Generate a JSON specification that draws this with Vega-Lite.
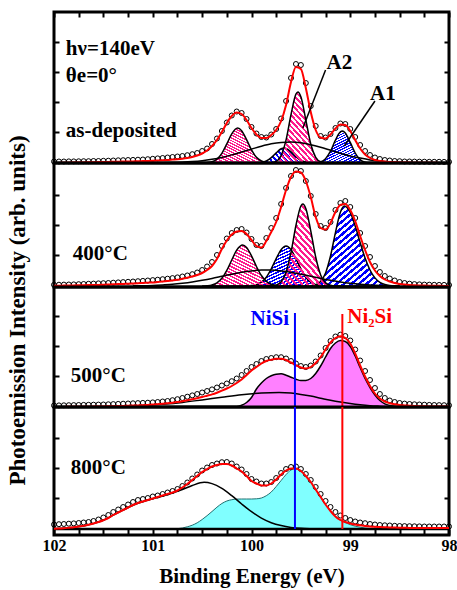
{
"$schema":"https://vega.github.io/schema/vega-lite/v6.json",
"background":"white",
"padding":{"left":4,"top":9,"right":0,"bottom":0},
"spacing":0,
"bounds":"flush",
"config":{
 "view":{"stroke":"black","strokeWidth":3},
 "font":"Liberation Serif",
 "text":{"font":"Liberation Serif","fontWeight":"bold","fontSize":21,"color":"black"},
 "axis":{"domain":false,"grid":false,"labels":false,"ticks":true,"tickColor":"black","tickWidth":2,"tickSize":-5,"labelFont":"Liberation Serif","titleFont":"Liberation Serif","labelFontWeight":"bold","titleFontWeight":"bold","labelColor":"black","titleColor":"black"}
},
"datasets":{
"fit":[
{"p":1,"e":102,"f":0,"o":1.5},{"p":1,"e":101.95,"f":0.1,"o":1.5},{"p":1,"e":101.9,"f":0.2,"o":1.5},{"p":1,"e":101.85,"f":0.3,"o":1.6},{"p":1,"e":101.8,"f":0.4,"o":1.6},{"p":1,"e":101.75,"f":0.5,"o":1.7},{"p":1,"e":101.7,"f":0.6,"o":1.8},{"p":1,"e":101.65,"f":0.7,"o":1.8},{"p":1,"e":101.6,"f":0.8,"o":2},{"p":1,"e":101.55,"f":0.9,"o":2},{"p":1,"e":101.5,"f":1,"o":2.2},{"p":1,"e":101.45,"f":1.1,"o":2.3},{"p":1,"e":101.4,"f":1.2,"o":2.5},{"p":1,"e":101.35,"f":1.3,"o":2.7},{"p":1,"e":101.3,"f":1.4,"o":2.8},{"p":1,"e":101.25,"f":1.5,"o":3},{"p":1,"e":101.2,"f":1.6,"o":3.1},{"p":1,"e":101.15,"f":1.7,"o":3.3},{"p":1,"e":101.1,"f":1.9,"o":3.5},{"p":1,"e":101.05,"f":2.1,"o":3.8},{"p":1,"e":101,"f":2.3,"o":4.2},{"p":1,"e":100.95,"f":2.5,"o":4.6},{"p":1,"e":100.9,"f":2.7,"o":5},{"p":1,"e":100.85,"f":3,"o":5.5},{"p":1,"e":100.8,"f":3.4,"o":6},{"p":1,"e":100.75,"f":3.8,"o":6.5},{"p":1,"e":100.7,"f":4.3,"o":7},{"p":1,"e":100.65,"f":5,"o":7.8},{"p":1,"e":100.6,"f":6,"o":8.8},{"p":1,"e":100.55,"f":7.5,"o":10},{"p":1,"e":100.5,"f":9.5,"o":12},{"p":1,"e":100.45,"f":12.5,"o":14.5},{"p":1,"e":100.4,"f":17,"o":19},{"p":1,"e":100.35,"f":23,"o":24.5},{"p":1,"e":100.3,"f":31,"o":32},{"p":1,"e":100.25,"f":40,"o":40.5},{"p":1,"e":100.2,"f":47,"o":47.5},{"p":1,"e":100.15,"f":50.5,"o":51.5},{"p":1,"e":100.1,"f":49,"o":50},{"p":1,"e":100.05,"f":43,"o":44},{"p":1,"e":100,"f":35,"o":36},{"p":1,"e":99.95,"f":28.5,"o":29.5},{"p":1,"e":99.9,"f":25,"o":26},{"p":1,"e":99.85,"f":25,"o":25.5},{"p":1,"e":99.8,"f":28,"o":28.5},{"p":1,"e":99.75,"f":33,"o":34},{"p":1,"e":99.7,"f":42,"o":44.5},{"p":1,"e":99.65,"f":58,"o":62},{"p":1,"e":99.6,"f":81,"o":85},{"p":1,"e":99.55,"f":96,"o":99},{"p":1,"e":99.5,"f":94,"o":98},{"p":1,"e":99.45,"f":75,"o":80},{"p":1,"e":99.4,"f":51,"o":57},{"p":1,"e":99.35,"f":33,"o":37},{"p":1,"e":99.3,"f":25.5,"o":27},{"p":1,"e":99.25,"f":24.5,"o":25.5},{"p":1,"e":99.2,"f":28.5,"o":29},{"p":1,"e":99.15,"f":34.5,"o":35},{"p":1,"e":99.1,"f":38.5,"o":39.5},{"p":1,"e":99.05,"f":38,"o":39},{"p":1,"e":99,"f":32,"o":34},{"p":1,"e":98.95,"f":23,"o":26},{"p":1,"e":98.9,"f":14.5,"o":18},{"p":1,"e":98.85,"f":8.5,"o":12},{"p":1,"e":98.8,"f":5,"o":8},{"p":1,"e":98.75,"f":3,"o":5.5},{"p":1,"e":98.7,"f":2,"o":4},{"p":1,"e":98.65,"f":1.5,"o":3},{"p":1,"e":98.6,"f":1,"o":2.5},{"p":1,"e":98.55,"f":0.8,"o":2},{"p":1,"e":98.5,"f":0.6,"o":1.8},{"p":1,"e":98.45,"f":0.5,"o":1.5},{"p":1,"e":98.4,"f":0.4,"o":1.5},{"p":1,"e":98.35,"f":0.3,"o":1.4},{"p":1,"e":98.3,"f":0.3,"o":1.3},{"p":1,"e":98.25,"f":0.2,"o":1.3},{"p":1,"e":98.2,"f":0.2,"o":1.2},{"p":1,"e":98.15,"f":0.2,"o":1.2},{"p":1,"e":98.1,"f":0.1,"o":1.2},{"p":1,"e":98.05,"f":0.1,"o":1.1},{"p":1,"e":98,"f":0.1,"o":1.1},
{"p":2,"e":102,"f":0.2,"o":1.2},{"p":2,"e":101.95,"f":0.3,"o":1.3},{"p":2,"e":101.9,"f":0.4,"o":1.4},{"p":2,"e":101.85,"f":0.5,"o":1.5},{"p":2,"e":101.8,"f":0.6,"o":1.6},{"p":2,"e":101.75,"f":0.7,"o":1.8},{"p":2,"e":101.7,"f":0.8,"o":2},{"p":2,"e":101.65,"f":0.9,"o":2.2},{"p":2,"e":101.6,"f":1,"o":2.4},{"p":2,"e":101.55,"f":1.1,"o":2.6},{"p":2,"e":101.5,"f":1.3,"o":2.8},{"p":2,"e":101.45,"f":1.5,"o":3},{"p":2,"e":101.4,"f":1.7,"o":3.3},{"p":2,"e":101.35,"f":1.9,"o":3.6},{"p":2,"e":101.3,"f":2.1,"o":3.9},{"p":2,"e":101.25,"f":2.3,"o":4.2},{"p":2,"e":101.2,"f":2.5,"o":4.5},{"p":2,"e":101.15,"f":2.7,"o":4.8},{"p":2,"e":101.1,"f":3,"o":5.1},{"p":2,"e":101.05,"f":3.3,"o":5.5},{"p":2,"e":101,"f":3.6,"o":5.9},{"p":2,"e":100.95,"f":4,"o":6.3},{"p":2,"e":100.9,"f":4.4,"o":6.8},{"p":2,"e":100.85,"f":4.9,"o":7.3},{"p":2,"e":100.8,"f":5.5,"o":7.9},{"p":2,"e":100.75,"f":6.2,"o":8.6},{"p":2,"e":100.7,"f":7.3,"o":9.5},{"p":2,"e":100.65,"f":8.3,"o":10.5},{"p":2,"e":100.6,"f":9.5,"o":11.8},{"p":2,"e":100.55,"f":11,"o":13.5},{"p":2,"e":100.5,"f":13,"o":16},{"p":2,"e":100.45,"f":16,"o":19.5},{"p":2,"e":100.4,"f":20,"o":24},{"p":2,"e":100.35,"f":27,"o":31},{"p":2,"e":100.3,"f":37,"o":40},{"p":2,"e":100.25,"f":45.5,"o":47.5},{"p":2,"e":100.2,"f":51.5,"o":53},{"p":2,"e":100.15,"f":54.5,"o":56},{"p":2,"e":100.1,"f":55,"o":57},{"p":2,"e":100.05,"f":52,"o":53.5},{"p":2,"e":100,"f":46,"o":47},{"p":2,"e":99.95,"f":40,"o":41},{"p":2,"e":99.9,"f":38.5,"o":40},{"p":2,"e":99.85,"f":45,"o":48},{"p":2,"e":99.8,"f":54,"o":58},{"p":2,"e":99.75,"f":64,"o":68},{"p":2,"e":99.7,"f":79,"o":82},{"p":2,"e":99.65,"f":96,"o":98},{"p":2,"e":99.6,"f":109,"o":110},{"p":2,"e":99.55,"f":114.5,"o":116},{"p":2,"e":99.5,"f":113.5,"o":115},{"p":2,"e":99.45,"f":105,"o":105},{"p":2,"e":99.4,"f":89,"o":90},{"p":2,"e":99.35,"f":69,"o":72},{"p":2,"e":99.3,"f":58,"o":60},{"p":2,"e":99.25,"f":56.5,"o":58},{"p":2,"e":99.2,"f":63,"o":64},{"p":2,"e":99.15,"f":74,"o":76},{"p":2,"e":99.1,"f":81,"o":83},{"p":2,"e":99.05,"f":82,"o":85},{"p":2,"e":99,"f":76,"o":79},{"p":2,"e":98.95,"f":65,"o":68},{"p":2,"e":98.9,"f":50,"o":53},{"p":2,"e":98.85,"f":36,"o":40},{"p":2,"e":98.8,"f":24,"o":29},{"p":2,"e":98.75,"f":15.5,"o":20},{"p":2,"e":98.7,"f":10,"o":14},{"p":2,"e":98.65,"f":6.5,"o":10},{"p":2,"e":98.6,"f":4.5,"o":7.5},{"p":2,"e":98.55,"f":3,"o":5.5},{"p":2,"e":98.5,"f":2,"o":4},{"p":2,"e":98.45,"f":1.4,"o":3},{"p":2,"e":98.4,"f":1,"o":2.3},{"p":2,"e":98.35,"f":0.7,"o":1.9},{"p":2,"e":98.3,"f":0.5,"o":1.6},{"p":2,"e":98.25,"f":0.4,"o":1.4},{"p":2,"e":98.2,"f":0.3,"o":1.3},{"p":2,"e":98.15,"f":0.2,"o":1.2},{"p":2,"e":98.1,"f":0.2,"o":1.1},{"p":2,"e":98.05,"f":0.1,"o":1.1},{"p":2,"e":98,"f":0.1,"o":1},
{"p":3,"e":102,"f":0.1,"o":1.5},{"p":3,"e":101.95,"f":0.1,"o":1.6},{"p":3,"e":101.9,"f":0.1,"o":1.7},{"p":3,"e":101.85,"f":0.2,"o":1.8},{"p":3,"e":101.8,"f":0.2,"o":1.9},{"p":3,"e":101.75,"f":0.2,"o":2},{"p":3,"e":101.7,"f":0.3,"o":2.1},{"p":3,"e":101.65,"f":0.3,"o":2.2},{"p":3,"e":101.6,"f":0.4,"o":2.3},{"p":3,"e":101.55,"f":0.5,"o":2.4},{"p":3,"e":101.5,"f":0.6,"o":2.5},{"p":3,"e":101.45,"f":0.7,"o":2.7},{"p":3,"e":101.4,"f":0.8,"o":2.9},{"p":3,"e":101.35,"f":0.9,"o":3.1},{"p":3,"e":101.3,"f":1,"o":3.3},{"p":3,"e":101.25,"f":1.2,"o":3.5},{"p":3,"e":101.2,"f":1.4,"o":3.7},{"p":3,"e":101.15,"f":1.6,"o":3.9},{"p":3,"e":101.1,"f":1.8,"o":4.1},{"p":3,"e":101.05,"f":2.1,"o":4.3},{"p":3,"e":101,"f":2.4,"o":4.6},{"p":3,"e":100.95,"f":2.8,"o":5},{"p":3,"e":100.9,"f":3.2,"o":5.5},{"p":3,"e":100.85,"f":3.7,"o":6},{"p":3,"e":100.8,"f":4.3,"o":6.8},{"p":3,"e":100.75,"f":5,"o":7.8},{"p":3,"e":100.7,"f":5.8,"o":9},{"p":3,"e":100.65,"f":6.7,"o":10.3},{"p":3,"e":100.6,"f":7.7,"o":11.6},{"p":3,"e":100.55,"f":8.8,"o":13},{"p":3,"e":100.5,"f":10,"o":14.5},{"p":3,"e":100.45,"f":11.3,"o":16},{"p":3,"e":100.4,"f":12.6,"o":17.6},{"p":3,"e":100.35,"f":14.3,"o":19.5},{"p":3,"e":100.3,"f":16.3,"o":21.5},{"p":3,"e":100.25,"f":18.5,"o":23.5},{"p":3,"e":100.2,"f":21,"o":25.8},{"p":3,"e":100.15,"f":24,"o":28.5},{"p":3,"e":100.1,"f":27.5,"o":32},{"p":3,"e":100.05,"f":32,"o":36},{"p":3,"e":100,"f":36.5,"o":40},{"p":3,"e":99.95,"f":40,"o":43},{"p":3,"e":99.9,"f":43.5,"o":46},{"p":3,"e":99.85,"f":46,"o":48},{"p":3,"e":99.8,"f":47.3,"o":49},{"p":3,"e":99.75,"f":48.2,"o":49.8},{"p":3,"e":99.7,"f":48.3,"o":49.8},{"p":3,"e":99.65,"f":47,"o":48.5},{"p":3,"e":99.6,"f":44.5,"o":46},{"p":3,"e":99.55,"f":41.8,"o":43.5},{"p":3,"e":99.5,"f":39.5,"o":41},{"p":3,"e":99.45,"f":38.5,"o":40},{"p":3,"e":99.4,"f":40,"o":41.5},{"p":3,"e":99.35,"f":44,"o":45.5},{"p":3,"e":99.3,"f":50,"o":51.5},{"p":3,"e":99.25,"f":57.5,"o":59},{"p":3,"e":99.2,"f":64.5,"o":66},{"p":3,"e":99.15,"f":69,"o":70.5},{"p":3,"e":99.1,"f":70.8,"o":72.3},{"p":3,"e":99.05,"f":69,"o":71},{"p":3,"e":99,"f":63.5,"o":66.5},{"p":3,"e":98.95,"f":53.5,"o":57.5},{"p":3,"e":98.9,"f":41.5,"o":46.5},{"p":3,"e":98.85,"f":30.5,"o":36},{"p":3,"e":98.8,"f":21,"o":27},{"p":3,"e":98.75,"f":13.5,"o":19},{"p":3,"e":98.7,"f":8.5,"o":13},{"p":3,"e":98.65,"f":5.5,"o":9},{"p":3,"e":98.6,"f":3.8,"o":6.5},{"p":3,"e":98.55,"f":2.7,"o":5},{"p":3,"e":98.5,"f":2,"o":4},{"p":3,"e":98.45,"f":1.6,"o":3.4},{"p":3,"e":98.4,"f":1.3,"o":3},{"p":3,"e":98.35,"f":1,"o":2.7},{"p":3,"e":98.3,"f":0.8,"o":2.5},{"p":3,"e":98.25,"f":0.7,"o":2.3},{"p":3,"e":98.2,"f":0.6,"o":2.1},{"p":3,"e":98.15,"f":0.5,"o":2},{"p":3,"e":98.1,"f":0.4,"o":1.9},{"p":3,"e":98.05,"f":0.4,"o":1.8},{"p":3,"e":98,"f":0.3,"o":1.7},
{"p":4,"e":102,"f":0.3,"o":4.5},{"p":4,"e":101.95,"f":0.5,"o":4.8},{"p":4,"e":101.9,"f":0.8,"o":5},{"p":4,"e":101.85,"f":1.3,"o":5.3},{"p":4,"e":101.8,"f":1.8,"o":5.6},{"p":4,"e":101.75,"f":2.5,"o":6},{"p":4,"e":101.7,"f":3.2,"o":6.5},{"p":4,"e":101.65,"f":4.3,"o":7},{"p":4,"e":101.6,"f":5.5,"o":8},{"p":4,"e":101.55,"f":7,"o":9.5},{"p":4,"e":101.5,"f":8.8,"o":11.5},{"p":4,"e":101.45,"f":11,"o":14},{"p":4,"e":101.4,"f":14,"o":17},{"p":4,"e":101.35,"f":16.5,"o":19.5},{"p":4,"e":101.3,"f":19,"o":22},{"p":4,"e":101.25,"f":21.5,"o":24.5},{"p":4,"e":101.2,"f":24,"o":27},{"p":4,"e":101.15,"f":26,"o":29},{"p":4,"e":101.1,"f":27.5,"o":30},{"p":4,"e":101.05,"f":29,"o":31},{"p":4,"e":101,"f":30.5,"o":32.5},{"p":4,"e":100.95,"f":32,"o":33.5},{"p":4,"e":100.9,"f":33.5,"o":35},{"p":4,"e":100.85,"f":35,"o":36.5},{"p":4,"e":100.8,"f":36.5,"o":38},{"p":4,"e":100.75,"f":38.5,"o":40},{"p":4,"e":100.7,"f":41.5,"o":43},{"p":4,"e":100.65,"f":45,"o":46.5},{"p":4,"e":100.6,"f":49,"o":50.5},{"p":4,"e":100.55,"f":53,"o":54.5},{"p":4,"e":100.5,"f":57,"o":58.5},{"p":4,"e":100.45,"f":60,"o":61.5},{"p":4,"e":100.4,"f":62.5,"o":64},{"p":4,"e":100.35,"f":64,"o":65.5},{"p":4,"e":100.3,"f":65,"o":66.8},{"p":4,"e":100.25,"f":65,"o":67},{"p":4,"e":100.2,"f":63.5,"o":65.5},{"p":4,"e":100.15,"f":60.5,"o":62.5},{"p":4,"e":100.1,"f":57.5,"o":59.5},{"p":4,"e":100.05,"f":53,"o":55},{"p":4,"e":100,"f":48,"o":50},{"p":4,"e":99.95,"f":45.5,"o":47.5},{"p":4,"e":99.9,"f":43.5,"o":45.5},{"p":4,"e":99.85,"f":43.5,"o":45.5},{"p":4,"e":99.8,"f":45.5,"o":47},{"p":4,"e":99.75,"f":49.5,"o":51},{"p":4,"e":99.7,"f":54.5,"o":56},{"p":4,"e":99.65,"f":58.5,"o":60},{"p":4,"e":99.6,"f":60.5,"o":62},{"p":4,"e":99.55,"f":60.5,"o":62.5},{"p":4,"e":99.5,"f":58,"o":60},{"p":4,"e":99.45,"f":53,"o":55},{"p":4,"e":99.4,"f":47,"o":49},{"p":4,"e":99.35,"f":39.5,"o":42},{"p":4,"e":99.3,"f":32,"o":35},{"p":4,"e":99.25,"f":24.5,"o":28},{"p":4,"e":99.2,"f":18,"o":22},{"p":4,"e":99.15,"f":12.5,"o":17},{"p":4,"e":99.1,"f":9,"o":13.5},{"p":4,"e":99.05,"f":7,"o":11},{"p":4,"e":99,"f":5.5,"o":9},{"p":4,"e":98.95,"f":4.5,"o":7.5},{"p":4,"e":98.9,"f":3.7,"o":6.5},{"p":4,"e":98.85,"f":3.1,"o":5.8},{"p":4,"e":98.8,"f":2.6,"o":5},{"p":4,"e":98.75,"f":2.2,"o":4.5},{"p":4,"e":98.7,"f":1.9,"o":4},{"p":4,"e":98.65,"f":1.7,"o":3.7},{"p":4,"e":98.6,"f":1.5,"o":3.5},{"p":4,"e":98.55,"f":1.4,"o":3.2},{"p":4,"e":98.5,"f":1.3,"o":3},{"p":4,"e":98.45,"f":1.2,"o":2.9},{"p":4,"e":98.4,"f":1.1,"o":2.8},{"p":4,"e":98.35,"f":1.1,"o":2.7},{"p":4,"e":98.3,"f":1,"o":2.6},{"p":4,"e":98.25,"f":1,"o":2.5},{"p":4,"e":98.2,"f":1,"o":2.5},{"p":4,"e":98.15,"f":1,"o":2.5},{"p":4,"e":98.1,"f":1,"o":2.5},{"p":4,"e":98.05,"f":1,"o":2.5},{"p":4,"e":98,"f":1,"o":2.5}
],
"comp":[
{"p":1,"s":"a","t":"pink","e":100.5,"v":0},{"p":1,"s":"a","t":"pink","e":100.45,"v":0.3},{"p":1,"s":"a","t":"pink","e":100.4,"v":1.2},{"p":1,"s":"a","t":"pink","e":100.35,"v":3.9},{"p":1,"s":"a","t":"pink","e":100.3,"v":9.7},{"p":1,"s":"a","t":"pink","e":100.25,"v":19.1},{"p":1,"s":"a","t":"pink","e":100.2,"v":29.2},{"p":1,"s":"a","t":"pink","e":100.14,"v":35},{"p":1,"s":"a","t":"pink","e":100.1,"v":32.3},{"p":1,"s":"a","t":"pink","e":100.05,"v":23.3},{"p":1,"s":"a","t":"pink","e":100,"v":13.1},{"p":1,"s":"a","t":"pink","e":99.95,"v":5.7},{"p":1,"s":"a","t":"pink","e":99.9,"v":2},{"p":1,"s":"a","t":"pink","e":99.85,"v":0.5},{"p":1,"s":"a","t":"pink","e":99.8,"v":0},
{"p":1,"s":"b","t":"pink","e":99.85,"v":0},{"p":1,"s":"b","t":"pink","e":99.8,"v":0.2},{"p":1,"s":"b","t":"pink","e":99.75,"v":1.6},{"p":1,"s":"b","t":"pink","e":99.7,"v":7.4},{"p":1,"s":"b","t":"pink","e":99.65,"v":23.1},{"p":1,"s":"b","t":"pink","e":99.6,"v":48.4},{"p":1,"s":"b","t":"pink","e":99.55,"v":68.8},{"p":1,"s":"b","t":"pink","e":99.53,"v":71},{"p":1,"s":"b","t":"pink","e":99.5,"v":66.2},{"p":1,"s":"b","t":"pink","e":99.45,"v":43.1},{"p":1,"s":"b","t":"pink","e":99.4,"v":19},{"p":1,"s":"b","t":"pink","e":99.35,"v":5.7},{"p":1,"s":"b","t":"pink","e":99.3,"v":1.2},{"p":1,"s":"b","t":"pink","e":99.25,"v":0.2},{"p":1,"s":"b","t":"pink","e":99.2,"v":0},
{"p":1,"s":"c","t":"blue","e":99.4,"v":0},{"p":1,"s":"c","t":"blue","e":99.35,"v":0.2},{"p":1,"s":"c","t":"blue","e":99.3,"v":1.1},{"p":1,"s":"c","t":"blue","e":99.25,"v":4.3},{"p":1,"s":"c","t":"blue","e":99.2,"v":11.8},{"p":1,"s":"c","t":"blue","e":99.15,"v":22.9},{"p":1,"s":"c","t":"blue","e":99.1,"v":31.1},{"p":1,"s":"c","t":"blue","e":99.08,"v":32},{"p":1,"s":"c","t":"blue","e":99.05,"v":30.1},{"p":1,"s":"c","t":"blue","e":99,"v":20.6},{"p":1,"s":"c","t":"blue","e":98.95,"v":10},{"p":1,"s":"c","t":"blue","e":98.9,"v":3.4},{"p":1,"s":"c","t":"blue","e":98.85,"v":0.8},{"p":1,"s":"c","t":"blue","e":98.8,"v":0.1},{"p":1,"s":"c","t":"blue","e":98.75,"v":0},
{"p":1,"s":"d","t":"blue","e":100,"v":0},{"p":1,"s":"d","t":"blue","e":99.95,"v":0.1},{"p":1,"s":"d","t":"blue","e":99.9,"v":0.6},{"p":1,"s":"d","t":"blue","e":99.85,"v":2},{"p":1,"s":"d","t":"blue","e":99.8,"v":5.3},{"p":1,"s":"d","t":"blue","e":99.75,"v":10.1},{"p":1,"s":"d","t":"blue","e":99.7,"v":14.2},{"p":1,"s":"d","t":"blue","e":99.67,"v":15},{"p":1,"s":"d","t":"blue","e":99.65,"v":14.6},{"p":1,"s":"d","t":"blue","e":99.6,"v":11.1},{"p":1,"s":"d","t":"blue","e":99.55,"v":6.2},{"p":1,"s":"d","t":"blue","e":99.5,"v":2.5},{"p":1,"s":"d","t":"blue","e":99.45,"v":0.8},{"p":1,"s":"d","t":"blue","e":99.4,"v":0.2},{"p":1,"s":"d","t":"blue","e":99.35,"v":0},
{"p":1,"s":"g","t":"bg","e":101,"v":0.1},{"p":1,"s":"g","t":"bg","e":100.9,"v":0.2},{"p":1,"s":"g","t":"bg","e":100.8,"v":0.4},{"p":1,"s":"g","t":"bg","e":100.7,"v":0.8},{"p":1,"s":"g","t":"bg","e":100.6,"v":1.4},{"p":1,"s":"g","t":"bg","e":100.5,"v":2.3},{"p":1,"s":"g","t":"bg","e":100.4,"v":3.7},{"p":1,"s":"g","t":"bg","e":100.3,"v":5.6},{"p":1,"s":"g","t":"bg","e":100.2,"v":8.1},{"p":1,"s":"g","t":"bg","e":100.1,"v":11},{"p":1,"s":"g","t":"bg","e":100,"v":13.9},{"p":1,"s":"g","t":"bg","e":99.9,"v":16.8},{"p":1,"s":"g","t":"bg","e":99.8,"v":19.2},{"p":1,"s":"g","t":"bg","e":99.7,"v":20.6},{"p":1,"s":"g","t":"bg","e":99.6,"v":21},{"p":1,"s":"g","t":"bg","e":99.5,"v":20.2},{"p":1,"s":"g","t":"bg","e":99.4,"v":18.3},{"p":1,"s":"g","t":"bg","e":99.3,"v":15.7},{"p":1,"s":"g","t":"bg","e":99.2,"v":12.7},{"p":1,"s":"g","t":"bg","e":99.1,"v":9.7},{"p":1,"s":"g","t":"bg","e":99,"v":7},{"p":1,"s":"g","t":"bg","e":98.9,"v":4.9},{"p":1,"s":"g","t":"bg","e":98.8,"v":3.1},{"p":1,"s":"g","t":"bg","e":98.7,"v":1.9},{"p":1,"s":"g","t":"bg","e":98.6,"v":1.1},{"p":1,"s":"g","t":"bg","e":98.5,"v":0.6},{"p":1,"s":"g","t":"bg","e":98.4,"v":0.3},{"p":1,"s":"g","t":"bg","e":98.3,"v":0.1},
{"p":2,"s":"a","t":"pink","e":100.5,"v":0},{"p":2,"s":"a","t":"pink","e":100.45,"v":0.3},{"p":2,"s":"a","t":"pink","e":100.4,"v":1.1},{"p":2,"s":"a","t":"pink","e":100.35,"v":3.2},{"p":2,"s":"a","t":"pink","e":100.3,"v":7.7},{"p":2,"s":"a","t":"pink","e":100.25,"v":15.6},{"p":2,"s":"a","t":"pink","e":100.2,"v":26},{"p":2,"s":"a","t":"pink","e":100.15,"v":35.8},{"p":2,"s":"a","t":"pink","e":100.09,"v":41},{"p":2,"s":"a","t":"pink","e":100.05,"v":38.6},{"p":2,"s":"a","t":"pink","e":100,"v":30.2},{"p":2,"s":"a","t":"pink","e":99.95,"v":19.5},{"p":2,"s":"a","t":"pink","e":99.9,"v":10.5},{"p":2,"s":"a","t":"pink","e":99.85,"v":4.6},{"p":2,"s":"a","t":"pink","e":99.8,"v":1.7},{"p":2,"s":"a","t":"pink","e":99.75,"v":0.5},{"p":2,"s":"a","t":"pink","e":99.7,"v":0.1},{"p":2,"s":"a","t":"pink","e":99.65,"v":0},
{"p":2,"s":"b","t":"pink","e":99.85,"v":0},{"p":2,"s":"b","t":"pink","e":99.8,"v":0.1},{"p":2,"s":"b","t":"pink","e":99.75,"v":0.9},{"p":2,"s":"b","t":"pink","e":99.7,"v":4.2},{"p":2,"s":"b","t":"pink","e":99.65,"v":13.8},{"p":2,"s":"b","t":"pink","e":99.6,"v":33.7},{"p":2,"s":"b","t":"pink","e":99.55,"v":60.5},{"p":2,"s":"b","t":"pink","e":99.5,"v":80},{"p":2,"s":"b","t":"pink","e":99.48,"v":82},{"p":2,"s":"b","t":"pink","e":99.45,"v":77.6},{"p":2,"s":"b","t":"pink","e":99.4,"v":55.2},{"p":2,"s":"b","t":"pink","e":99.35,"v":29},{"p":2,"s":"b","t":"pink","e":99.3,"v":11.1},{"p":2,"s":"b","t":"pink","e":99.25,"v":3.1},{"p":2,"s":"b","t":"pink","e":99.2,"v":0.7},{"p":2,"s":"b","t":"pink","e":99.15,"v":0.1},{"p":2,"s":"b","t":"pink","e":99.1,"v":0},
{"p":2,"s":"c","t":"blue","e":99.45,"v":0},{"p":2,"s":"c","t":"blue","e":99.4,"v":0.2},{"p":2,"s":"c","t":"blue","e":99.35,"v":1.2},{"p":2,"s":"c","t":"blue","e":99.3,"v":4.5},{"p":2,"s":"c","t":"blue","e":99.25,"v":13.1},{"p":2,"s":"c","t":"blue","e":99.2,"v":30},{"p":2,"s":"c","t":"blue","e":99.15,"v":53.4},{"p":2,"s":"c","t":"blue","e":99.1,"v":73.8},{"p":2,"s":"c","t":"blue","e":99.06,"v":80},{"p":2,"s":"c","t":"blue","e":99,"v":73.5},{"p":2,"s":"c","t":"blue","e":98.95,"v":60},{"p":2,"s":"c","t":"blue","e":98.9,"v":43.6},{"p":2,"s":"c","t":"blue","e":98.85,"v":28},{"p":2,"s":"c","t":"blue","e":98.8,"v":16},{"p":2,"s":"c","t":"blue","e":98.75,"v":8.1},{"p":2,"s":"c","t":"blue","e":98.7,"v":3.7},{"p":2,"s":"c","t":"blue","e":98.65,"v":1.5},{"p":2,"s":"c","t":"blue","e":98.6,"v":0.5},{"p":2,"s":"c","t":"blue","e":98.55,"v":0.1},{"p":2,"s":"c","t":"blue","e":98.5,"v":0},
{"p":2,"s":"d","t":"blue","e":100.1,"v":0},{"p":2,"s":"d","t":"blue","e":100.05,"v":0.1},{"p":2,"s":"d","t":"blue","e":100,"v":0.4},{"p":2,"s":"d","t":"blue","e":99.95,"v":1.3},{"p":2,"s":"d","t":"blue","e":99.9,"v":3.8},{"p":2,"s":"d","t":"blue","e":99.85,"v":8.8},{"p":2,"s":"d","t":"blue","e":99.8,"v":17.2},{"p":2,"s":"d","t":"blue","e":99.75,"v":27.4},{"p":2,"s":"d","t":"blue","e":99.7,"v":36.4},{"p":2,"s":"d","t":"blue","e":99.65,"v":40},{"p":2,"s":"d","t":"blue","e":99.6,"v":36.4},{"p":2,"s":"d","t":"blue","e":99.55,"v":27.4},{"p":2,"s":"d","t":"blue","e":99.5,"v":17.2},{"p":2,"s":"d","t":"blue","e":99.45,"v":8.8},{"p":2,"s":"d","t":"blue","e":99.4,"v":3.8},{"p":2,"s":"d","t":"blue","e":99.35,"v":1.3},{"p":2,"s":"d","t":"blue","e":99.3,"v":0.4},{"p":2,"s":"d","t":"blue","e":99.25,"v":0.1},{"p":2,"s":"d","t":"blue","e":99.2,"v":0},
{"p":2,"s":"g","t":"bg","e":101.2,"v":0.2},{"p":2,"s":"g","t":"bg","e":101.1,"v":0.3},{"p":2,"s":"g","t":"bg","e":101,"v":0.6},{"p":2,"s":"g","t":"bg","e":100.9,"v":1.1},{"p":2,"s":"g","t":"bg","e":100.8,"v":1.7},{"p":2,"s":"g","t":"bg","e":100.7,"v":2.7},{"p":2,"s":"g","t":"bg","e":100.6,"v":4},{"p":2,"s":"g","t":"bg","e":100.5,"v":5.7},{"p":2,"s":"g","t":"bg","e":100.4,"v":7.6},{"p":2,"s":"g","t":"bg","e":100.3,"v":9.7},{"p":2,"s":"g","t":"bg","e":100.2,"v":11.8},{"p":2,"s":"g","t":"bg","e":100.1,"v":13.7},{"p":2,"s":"g","t":"bg","e":100,"v":15.1},{"p":2,"s":"g","t":"bg","e":99.9,"v":15.9},{"p":2,"s":"g","t":"bg","e":99.8,"v":15.9},{"p":2,"s":"g","t":"bg","e":99.7,"v":15.1},{"p":2,"s":"g","t":"bg","e":99.6,"v":13.7},{"p":2,"s":"g","t":"bg","e":99.5,"v":11.8},{"p":2,"s":"g","t":"bg","e":99.4,"v":9.7},{"p":2,"s":"g","t":"bg","e":99.3,"v":7.6},{"p":2,"s":"g","t":"bg","e":99.2,"v":5.7},{"p":2,"s":"g","t":"bg","e":99.1,"v":4},{"p":2,"s":"g","t":"bg","e":99,"v":2.7},{"p":2,"s":"g","t":"bg","e":98.9,"v":1.7},{"p":2,"s":"g","t":"bg","e":98.8,"v":1.1},{"p":2,"s":"g","t":"bg","e":98.7,"v":0.6},{"p":2,"s":"g","t":"bg","e":98.6,"v":0.3},{"p":2,"s":"g","t":"bg","e":98.5,"v":0.2},
{"p":3,"s":"m","t":"mag","e":100.2,"v":0},{"p":3,"s":"m","t":"mag","e":100.15,"v":0.3},{"p":3,"s":"m","t":"mag","e":100.1,"v":1.7},{"p":3,"s":"m","t":"mag","e":100.05,"v":4.5},{"p":3,"s":"m","t":"mag","e":100,"v":9.5},{"p":3,"s":"m","t":"mag","e":99.95,"v":18},{"p":3,"s":"m","t":"mag","e":99.9,"v":24},{"p":3,"s":"m","t":"mag","e":99.85,"v":28.5},{"p":3,"s":"m","t":"mag","e":99.8,"v":31.2},{"p":3,"s":"m","t":"mag","e":99.75,"v":32.8},{"p":3,"s":"m","t":"mag","e":99.7,"v":33.2},{"p":3,"s":"m","t":"mag","e":99.65,"v":31.8},{"p":3,"s":"m","t":"mag","e":99.6,"v":29.8},{"p":3,"s":"m","t":"mag","e":99.55,"v":27.8},{"p":3,"s":"m","t":"mag","e":99.5,"v":26.4},{"p":3,"s":"m","t":"mag","e":99.45,"v":26.5},{"p":3,"s":"m","t":"mag","e":99.4,"v":28.5},{"p":3,"s":"m","t":"mag","e":99.35,"v":33.5},{"p":3,"s":"m","t":"mag","e":99.3,"v":41},{"p":3,"s":"m","t":"mag","e":99.25,"v":50},{"p":3,"s":"m","t":"mag","e":99.2,"v":58.5},{"p":3,"s":"m","t":"mag","e":99.15,"v":64},{"p":3,"s":"m","t":"mag","e":99.1,"v":66.5},{"p":3,"s":"m","t":"mag","e":99.05,"v":65.5},{"p":3,"s":"m","t":"mag","e":99,"v":60.5},{"p":3,"s":"m","t":"mag","e":98.95,"v":51},{"p":3,"s":"m","t":"mag","e":98.9,"v":39.5},{"p":3,"s":"m","t":"mag","e":98.85,"v":28.5},{"p":3,"s":"m","t":"mag","e":98.8,"v":19.5},{"p":3,"s":"m","t":"mag","e":98.75,"v":12},{"p":3,"s":"m","t":"mag","e":98.7,"v":6.5},{"p":3,"s":"m","t":"mag","e":98.65,"v":3.2},{"p":3,"s":"m","t":"mag","e":98.6,"v":1.5},{"p":3,"s":"m","t":"mag","e":98.55,"v":0.5},{"p":3,"s":"m","t":"mag","e":98.5,"v":0},
{"p":3,"s":"g","t":"bg","e":101.7,"v":0.1},{"p":3,"s":"g","t":"bg","e":101.5,"v":0.3},{"p":3,"s":"g","t":"bg","e":101.3,"v":0.8},{"p":3,"s":"g","t":"bg","e":101.1,"v":1.5},{"p":3,"s":"g","t":"bg","e":100.9,"v":2.8},{"p":3,"s":"g","t":"bg","e":100.7,"v":4.6},{"p":3,"s":"g","t":"bg","e":100.5,"v":7.1},{"p":3,"s":"g","t":"bg","e":100.3,"v":9.7},{"p":3,"s":"g","t":"bg","e":100.1,"v":12.2},{"p":3,"s":"g","t":"bg","e":99.9,"v":14},{"p":3,"s":"g","t":"bg","e":99.72,"v":14.5},{"p":3,"s":"g","t":"bg","e":99.6,"v":13.9},{"p":3,"s":"g","t":"bg","e":99.5,"v":12.6},{"p":3,"s":"g","t":"bg","e":99.4,"v":10.9},{"p":3,"s":"g","t":"bg","e":99.3,"v":8.8},{"p":3,"s":"g","t":"bg","e":99.2,"v":6.7},{"p":3,"s":"g","t":"bg","e":99.1,"v":4.9},{"p":3,"s":"g","t":"bg","e":99,"v":3.4},{"p":3,"s":"g","t":"bg","e":98.9,"v":2.2},{"p":3,"s":"g","t":"bg","e":98.8,"v":1.3},{"p":3,"s":"g","t":"bg","e":98.7,"v":0.8},{"p":3,"s":"g","t":"bg","e":98.6,"v":0.4},{"p":3,"s":"g","t":"bg","e":98.5,"v":0.2},{"p":3,"s":"g","t":"bg","e":98.4,"v":0.1},
{"p":4,"s":"y","t":"cyan","e":100.8,"v":0},{"p":4,"s":"y","t":"cyan","e":100.75,"v":0.3},{"p":4,"s":"y","t":"cyan","e":100.7,"v":1},{"p":4,"s":"y","t":"cyan","e":100.65,"v":2.2},{"p":4,"s":"y","t":"cyan","e":100.6,"v":3.8},{"p":4,"s":"y","t":"cyan","e":100.55,"v":6.2},{"p":4,"s":"y","t":"cyan","e":100.5,"v":9.5},{"p":4,"s":"y","t":"cyan","e":100.45,"v":13.3},{"p":4,"s":"y","t":"cyan","e":100.4,"v":17.5},{"p":4,"s":"y","t":"cyan","e":100.35,"v":21.8},{"p":4,"s":"y","t":"cyan","e":100.3,"v":25.5},{"p":4,"s":"y","t":"cyan","e":100.25,"v":28},{"p":4,"s":"y","t":"cyan","e":100.2,"v":29.3},{"p":4,"s":"y","t":"cyan","e":100.15,"v":29.9},{"p":4,"s":"y","t":"cyan","e":100.1,"v":30},{"p":4,"s":"y","t":"cyan","e":100.05,"v":30},{"p":4,"s":"y","t":"cyan","e":100,"v":30},{"p":4,"s":"y","t":"cyan","e":99.95,"v":30.2},{"p":4,"s":"y","t":"cyan","e":99.9,"v":31},{"p":4,"s":"y","t":"cyan","e":99.85,"v":33.3},{"p":4,"s":"y","t":"cyan","e":99.8,"v":37},{"p":4,"s":"y","t":"cyan","e":99.75,"v":42.5},{"p":4,"s":"y","t":"cyan","e":99.7,"v":48.5},{"p":4,"s":"y","t":"cyan","e":99.65,"v":54.5},{"p":4,"s":"y","t":"cyan","e":99.6,"v":59},{"p":4,"s":"y","t":"cyan","e":99.55,"v":60.5},{"p":4,"s":"y","t":"cyan","e":99.5,"v":58.5},{"p":4,"s":"y","t":"cyan","e":99.45,"v":53},{"p":4,"s":"y","t":"cyan","e":99.4,"v":47},{"p":4,"s":"y","t":"cyan","e":99.35,"v":39.5},{"p":4,"s":"y","t":"cyan","e":99.3,"v":32},{"p":4,"s":"y","t":"cyan","e":99.25,"v":24.5},{"p":4,"s":"y","t":"cyan","e":99.2,"v":18},{"p":4,"s":"y","t":"cyan","e":99.15,"v":12.5},{"p":4,"s":"y","t":"cyan","e":99.1,"v":8.8},{"p":4,"s":"y","t":"cyan","e":99.05,"v":6.3},{"p":4,"s":"y","t":"cyan","e":99,"v":4.3},{"p":4,"s":"y","t":"cyan","e":98.95,"v":2.8},{"p":4,"s":"y","t":"cyan","e":98.9,"v":1.8},{"p":4,"s":"y","t":"cyan","e":98.85,"v":1},{"p":4,"s":"y","t":"cyan","e":98.8,"v":0.5},{"p":4,"s":"y","t":"cyan","e":98.75,"v":0.2},{"p":4,"s":"y","t":"cyan","e":98.7,"v":0},
{"p":4,"s":"k","t":"black","e":102,"v":0.2},{"p":4,"s":"k","t":"black","e":101.9,"v":0.7},{"p":4,"s":"k","t":"black","e":101.8,"v":1.7},{"p":4,"s":"k","t":"black","e":101.7,"v":3.1},{"p":4,"s":"k","t":"black","e":101.6,"v":5.4},{"p":4,"s":"k","t":"black","e":101.5,"v":8.7},{"p":4,"s":"k","t":"black","e":101.4,"v":13.8},{"p":4,"s":"k","t":"black","e":101.3,"v":18.8},{"p":4,"s":"k","t":"black","e":101.2,"v":23.8},{"p":4,"s":"k","t":"black","e":101.1,"v":27.3},{"p":4,"s":"k","t":"black","e":101,"v":30.2},{"p":4,"s":"k","t":"black","e":100.9,"v":33},{"p":4,"s":"k","t":"black","e":100.8,"v":36},{"p":4,"s":"k","t":"black","e":100.7,"v":39.5},{"p":4,"s":"k","t":"black","e":100.6,"v":43.5},{"p":4,"s":"k","t":"black","e":100.48,"v":46.7},{"p":4,"s":"k","t":"black","e":100.4,"v":45.4},{"p":4,"s":"k","t":"black","e":100.3,"v":40.6},{"p":4,"s":"k","t":"black","e":100.2,"v":33.3},{"p":4,"s":"k","t":"black","e":100.1,"v":25},{"p":4,"s":"k","t":"black","e":100,"v":17.3},{"p":4,"s":"k","t":"black","e":99.9,"v":10.9},{"p":4,"s":"k","t":"black","e":99.8,"v":6.3},{"p":4,"s":"k","t":"black","e":99.7,"v":3.4},{"p":4,"s":"k","t":"black","e":99.6,"v":1.6},{"p":4,"s":"k","t":"black","e":99.5,"v":0.7},{"p":4,"s":"k","t":"black","e":99.4,"v":0.3},{"p":4,"s":"k","t":"black","e":99.3,"v":0.1}
],
"labels":[
{"p":1,"k":"l","txt":"hν=140eV","e":101.88,"v":108},
{"p":1,"k":"l","txt":"θe=0°","e":101.88,"v":81},
{"p":1,"k":"l","txt":"as-deposited","e":101.88,"v":26},
{"p":1,"k":"c","txt":"A2","e":99.11,"v":94},
{"p":1,"k":"c","txt":"A1","e":98.67,"v":63},
{"p":2,"k":"l","txt":"400°C","e":101.81,"v":26},
{"p":3,"k":"l","txt":"500°C","e":101.83,"v":25},
{"p":3,"k":"b","txt":"NiSi","e":99.62,"v":82},
{"p":3,"k":"r","txt":"Ni₂Si","e":99.03,"v":84},
{"p":4,"k":"l","txt":"800°C","e":101.83,"v":55}
],
"refs":[
{"p":3,"n":"NiSi","e":99.56,"lo":0,"hi":94},
{"p":3,"n":"Ni2Si","e":99.08,"lo":0,"hi":93},
{"p":4,"n":"NiSi","e":99.56,"lo":0,"hi":122},
{"p":4,"n":"Ni2Si","e":99.08,"lo":0,"hi":122}
],
"ptr":[
{"p":1,"e":99.25,"v":93,"e2":99.48,"v2":35},
{"p":1,"e":98.75,"v":62,"e2":99.06,"v2":17}
],
"base":[{"v":0}]
},
"vconcat":[
{
"width":395,"height":151,
"resolve":{"axis":{"x":"independent","y":"independent"}},
"layer":[
{"data":{"name":"comp"},"transform":[{"filter":"datum.p==1 && datum.t=='blue'"}],
 "mark":{"type":"area","interpolate":"monotone","stroke":"black","strokeWidth":1.5,"fill":{"gradient":"linear","x1":0,"y1":0,"x2":1,"y2":1,"stops":[{"offset":0,"color":"#00f"},{"offset":0.02,"color":"#00f"},{"offset":0.02,"color":"transparent"},{"offset":0.04,"color":"transparent"},{"offset":0.04,"color":"#00f"},{"offset":0.06,"color":"#00f"},{"offset":0.06,"color":"transparent"},{"offset":0.08,"color":"transparent"},{"offset":0.08,"color":"#00f"},{"offset":0.1,"color":"#00f"},{"offset":0.1,"color":"transparent"},{"offset":0.12,"color":"transparent"},{"offset":0.12,"color":"#00f"},{"offset":0.14,"color":"#00f"},{"offset":0.14,"color":"transparent"},{"offset":0.16,"color":"transparent"},{"offset":0.16,"color":"#00f"},{"offset":0.18,"color":"#00f"},{"offset":0.18,"color":"transparent"},{"offset":0.2,"color":"transparent"},{"offset":0.2,"color":"#00f"},{"offset":0.22,"color":"#00f"},{"offset":0.22,"color":"transparent"},{"offset":0.24,"color":"transparent"},{"offset":0.24,"color":"#00f"},{"offset":0.26,"color":"#00f"},{"offset":0.26,"color":"transparent"},{"offset":0.28,"color":"transparent"},{"offset":0.28,"color":"#00f"},{"offset":0.3,"color":"#00f"},{"offset":0.3,"color":"transparent"},{"offset":0.32,"color":"transparent"},{"offset":0.32,"color":"#00f"},{"offset":0.34,"color":"#00f"},{"offset":0.34,"color":"transparent"},{"offset":0.36,"color":"transparent"},{"offset":0.36,"color":"#00f"},{"offset":0.38,"color":"#00f"},{"offset":0.38,"color":"transparent"},{"offset":0.4,"color":"transparent"},{"offset":0.4,"color":"#00f"},{"offset":0.42,"color":"#00f"},{"offset":0.42,"color":"transparent"},{"offset":0.44,"color":"transparent"},{"offset":0.44,"color":"#00f"},{"offset":0.46,"color":"#00f"},{"offset":0.46,"color":"transparent"},{"offset":0.48,"color":"transparent"},{"offset":0.48,"color":"#00f"},{"offset":0.5,"color":"#00f"},{"offset":0.5,"color":"transparent"},{"offset":0.52,"color":"transparent"},{"offset":0.52,"color":"#00f"},{"offset":0.54,"color":"#00f"},{"offset":0.54,"color":"transparent"},{"offset":0.56,"color":"transparent"},{"offset":0.56,"color":"#00f"},{"offset":0.58,"color":"#00f"},{"offset":0.58,"color":"transparent"},{"offset":0.6,"color":"transparent"},{"offset":0.6,"color":"#00f"},{"offset":0.62,"color":"#00f"},{"offset":0.62,"color":"transparent"},{"offset":0.64,"color":"transparent"},{"offset":0.64,"color":"#00f"},{"offset":0.66,"color":"#00f"},{"offset":0.66,"color":"transparent"},{"offset":0.68,"color":"transparent"},{"offset":0.68,"color":"#00f"},{"offset":0.7,"color":"#00f"},{"offset":0.7,"color":"transparent"},{"offset":0.72,"color":"transparent"},{"offset":0.72,"color":"#00f"},{"offset":0.74,"color":"#00f"},{"offset":0.74,"color":"transparent"},{"offset":0.76,"color":"transparent"},{"offset":0.76,"color":"#00f"},{"offset":0.78,"color":"#00f"},{"offset":0.78,"color":"transparent"},{"offset":0.8,"color":"transparent"},{"offset":0.8,"color":"#00f"},{"offset":0.82,"color":"#00f"},{"offset":0.82,"color":"transparent"},{"offset":0.84,"color":"transparent"},{"offset":0.84,"color":"#00f"},{"offset":0.86,"color":"#00f"},{"offset":0.86,"color":"transparent"},{"offset":0.88,"color":"transparent"},{"offset":0.88,"color":"#00f"},{"offset":0.9,"color":"#00f"},{"offset":0.9,"color":"transparent"},{"offset":0.92,"color":"transparent"},{"offset":0.92,"color":"#00f"},{"offset":0.94,"color":"#00f"},{"offset":0.94,"color":"transparent"},{"offset":0.96,"color":"transparent"},{"offset":0.96,"color":"#00f"},{"offset":0.98,"color":"#00f"},{"offset":0.98,"color":"transparent"},{"offset":1,"color":"transparent"}]}},
 "encoding":{"x":{"field":"e","type":"quantitative","scale":{"domain":[98,102],"reverse":true,"nice":false,"zero":false},"axis":null},"y":{"field":"v","type":"quantitative","stack":null,"scale":{"domain":[0,151],"nice":false,"zero":false},"axis":null},"detail":{"field":"s"}}},
{"data":{"name":"comp"},"transform":[{"filter":"datum.p==1 && datum.t=='pink'"}],
 "mark":{"type":"area","interpolate":"monotone","stroke":"black","strokeWidth":1.5,"fill":{"gradient":"linear","x1":0,"y1":1,"x2":1,"y2":0,"stops":[{"offset":0,"color":"#ff1a8c"},{"offset":0.02,"color":"#ff1a8c"},{"offset":0.02,"color":"transparent"},{"offset":0.04,"color":"transparent"},{"offset":0.04,"color":"#ff1a8c"},{"offset":0.06,"color":"#ff1a8c"},{"offset":0.06,"color":"transparent"},{"offset":0.08,"color":"transparent"},{"offset":0.08,"color":"#ff1a8c"},{"offset":0.1,"color":"#ff1a8c"},{"offset":0.1,"color":"transparent"},{"offset":0.12,"color":"transparent"},{"offset":0.12,"color":"#ff1a8c"},{"offset":0.14,"color":"#ff1a8c"},{"offset":0.14,"color":"transparent"},{"offset":0.16,"color":"transparent"},{"offset":0.16,"color":"#ff1a8c"},{"offset":0.18,"color":"#ff1a8c"},{"offset":0.18,"color":"transparent"},{"offset":0.2,"color":"transparent"},{"offset":0.2,"color":"#ff1a8c"},{"offset":0.22,"color":"#ff1a8c"},{"offset":0.22,"color":"transparent"},{"offset":0.24,"color":"transparent"},{"offset":0.24,"color":"#ff1a8c"},{"offset":0.26,"color":"#ff1a8c"},{"offset":0.26,"color":"transparent"},{"offset":0.28,"color":"transparent"},{"offset":0.28,"color":"#ff1a8c"},{"offset":0.3,"color":"#ff1a8c"},{"offset":0.3,"color":"transparent"},{"offset":0.32,"color":"transparent"},{"offset":0.32,"color":"#ff1a8c"},{"offset":0.34,"color":"#ff1a8c"},{"offset":0.34,"color":"transparent"},{"offset":0.36,"color":"transparent"},{"offset":0.36,"color":"#ff1a8c"},{"offset":0.38,"color":"#ff1a8c"},{"offset":0.38,"color":"transparent"},{"offset":0.4,"color":"transparent"},{"offset":0.4,"color":"#ff1a8c"},{"offset":0.42,"color":"#ff1a8c"},{"offset":0.42,"color":"transparent"},{"offset":0.44,"color":"transparent"},{"offset":0.44,"color":"#ff1a8c"},{"offset":0.46,"color":"#ff1a8c"},{"offset":0.46,"color":"transparent"},{"offset":0.48,"color":"transparent"},{"offset":0.48,"color":"#ff1a8c"},{"offset":0.5,"color":"#ff1a8c"},{"offset":0.5,"color":"transparent"},{"offset":0.52,"color":"transparent"},{"offset":0.52,"color":"#ff1a8c"},{"offset":0.54,"color":"#ff1a8c"},{"offset":0.54,"color":"transparent"},{"offset":0.56,"color":"transparent"},{"offset":0.56,"color":"#ff1a8c"},{"offset":0.58,"color":"#ff1a8c"},{"offset":0.58,"color":"transparent"},{"offset":0.6,"color":"transparent"},{"offset":0.6,"color":"#ff1a8c"},{"offset":0.62,"color":"#ff1a8c"},{"offset":0.62,"color":"transparent"},{"offset":0.64,"color":"transparent"},{"offset":0.64,"color":"#ff1a8c"},{"offset":0.66,"color":"#ff1a8c"},{"offset":0.66,"color":"transparent"},{"offset":0.68,"color":"transparent"},{"offset":0.68,"color":"#ff1a8c"},{"offset":0.7,"color":"#ff1a8c"},{"offset":0.7,"color":"transparent"},{"offset":0.72,"color":"transparent"},{"offset":0.72,"color":"#ff1a8c"},{"offset":0.74,"color":"#ff1a8c"},{"offset":0.74,"color":"transparent"},{"offset":0.76,"color":"transparent"},{"offset":0.76,"color":"#ff1a8c"},{"offset":0.78,"color":"#ff1a8c"},{"offset":0.78,"color":"transparent"},{"offset":0.8,"color":"transparent"},{"offset":0.8,"color":"#ff1a8c"},{"offset":0.82,"color":"#ff1a8c"},{"offset":0.82,"color":"transparent"},{"offset":0.84,"color":"transparent"},{"offset":0.84,"color":"#ff1a8c"},{"offset":0.86,"color":"#ff1a8c"},{"offset":0.86,"color":"transparent"},{"offset":0.88,"color":"transparent"},{"offset":0.88,"color":"#ff1a8c"},{"offset":0.9,"color":"#ff1a8c"},{"offset":0.9,"color":"transparent"},{"offset":0.92,"color":"transparent"},{"offset":0.92,"color":"#ff1a8c"},{"offset":0.94,"color":"#ff1a8c"},{"offset":0.94,"color":"transparent"},{"offset":0.96,"color":"transparent"},{"offset":0.96,"color":"#ff1a8c"},{"offset":0.98,"color":"#ff1a8c"},{"offset":0.98,"color":"transparent"},{"offset":1,"color":"transparent"}]}},
 "encoding":{"x":{"field":"e","type":"quantitative","scale":{"domain":[98,102],"reverse":true,"nice":false,"zero":false},"axis":null},"y":{"field":"v","type":"quantitative","stack":null,"scale":{"domain":[0,151],"nice":false,"zero":false},"axis":null},"detail":{"field":"s"}}},
{"data":{"name":"comp"},"transform":[{"filter":"datum.p==1 && datum.t=='bg'"}],
 "mark":{"type":"line","interpolate":"monotone","color":"black","strokeWidth":1.5},
 "encoding":{"x":{"field":"e","type":"quantitative","scale":{"domain":[98,102],"reverse":true,"nice":false,"zero":false},"axis":null},"y":{"field":"v","type":"quantitative","scale":{"domain":[0,151],"nice":false,"zero":false},"axis":null}}},
{"data":{"name":"fit"},"transform":[{"filter":"datum.p==1"}],
 "mark":{"type":"point","shape":"circle","filled":false,"color":"black","strokeWidth":1,"size":25,"opacity":1},
 "encoding":{"x":{"field":"e","type":"quantitative","scale":{"domain":[98,102],"reverse":true,"nice":false,"zero":false},"axis":null},"y":{"field":"o","type":"quantitative","scale":{"domain":[0,151],"nice":false,"zero":false},"axis":{"orient":"right","values":[31,61,91,121],"title":null}}}},
{"data":{"name":"fit"},"transform":[{"filter":"datum.p==1"}],
 "mark":{"type":"line","interpolate":"monotone","color":"red","strokeWidth":2},
 "encoding":{"x":{"field":"e","type":"quantitative","scale":{"domain":[98,102],"reverse":true,"nice":false,"zero":false},"axis":{"orient":"top","values":[98,98.25,98.5,98.75,99,99.25,99.5,99.75,100,100.25,100.5,100.75,101,101.25,101.5,101.75,102],"title":null}},"y":{"field":"f","type":"quantitative","scale":{"domain":[0,151],"nice":false,"zero":false},"axis":{"orient":"left","values":[31,61,91,121],"title":null}}}},
{"data":{"name":"ptr"},"transform":[{"filter":"datum.p==1"}],
 "mark":{"type":"rule","color":"black","strokeWidth":1.5},
 "encoding":{"x":{"field":"e","type":"quantitative","scale":{"domain":[98,102],"reverse":true,"nice":false,"zero":false},"axis":null},"x2":{"field":"e2"},"y":{"field":"v","type":"quantitative","scale":{"domain":[0,151],"nice":false,"zero":false},"axis":null},"y2":{"field":"v2"}}},
{"data":{"name":"labels"},"transform":[{"filter":"datum.p==1 && datum.k=='l'"}],
 "mark":{"type":"text","align":"left","baseline":"alphabetic","color":"black"},
 "encoding":{"x":{"field":"e","type":"quantitative","scale":{"domain":[98,102],"reverse":true,"nice":false,"zero":false},"axis":null},"y":{"field":"v","type":"quantitative","scale":{"domain":[0,151],"nice":false,"zero":false},"axis":null},"text":{"field":"txt"}}},
{"data":{"name":"labels"},"transform":[{"filter":"datum.p==1 && datum.k=='c'"}],
 "mark":{"type":"text","align":"center","baseline":"alphabetic","color":"black"},
 "encoding":{"x":{"field":"e","type":"quantitative","scale":{"domain":[98,102],"reverse":true,"nice":false,"zero":false},"axis":null},"y":{"field":"v","type":"quantitative","scale":{"domain":[0,151],"nice":false,"zero":false},"axis":null},"text":{"field":"txt"}}}
]
},
{
"width":395,"height":124,
"resolve":{"axis":{"x":"independent","y":"independent"}},
"layer":[
{"data":{"name":"comp"},"transform":[{"filter":"datum.p==2 && datum.t=='blue'"}],
 "mark":{"type":"area","interpolate":"monotone","stroke":"black","strokeWidth":1.5,"fill":{"gradient":"linear","x1":0,"y1":0,"x2":1,"y2":1,"stops":[{"offset":0,"color":"#00f"},{"offset":0.02,"color":"#00f"},{"offset":0.02,"color":"transparent"},{"offset":0.04,"color":"transparent"},{"offset":0.04,"color":"#00f"},{"offset":0.06,"color":"#00f"},{"offset":0.06,"color":"transparent"},{"offset":0.08,"color":"transparent"},{"offset":0.08,"color":"#00f"},{"offset":0.1,"color":"#00f"},{"offset":0.1,"color":"transparent"},{"offset":0.12,"color":"transparent"},{"offset":0.12,"color":"#00f"},{"offset":0.14,"color":"#00f"},{"offset":0.14,"color":"transparent"},{"offset":0.16,"color":"transparent"},{"offset":0.16,"color":"#00f"},{"offset":0.18,"color":"#00f"},{"offset":0.18,"color":"transparent"},{"offset":0.2,"color":"transparent"},{"offset":0.2,"color":"#00f"},{"offset":0.22,"color":"#00f"},{"offset":0.22,"color":"transparent"},{"offset":0.24,"color":"transparent"},{"offset":0.24,"color":"#00f"},{"offset":0.26,"color":"#00f"},{"offset":0.26,"color":"transparent"},{"offset":0.28,"color":"transparent"},{"offset":0.28,"color":"#00f"},{"offset":0.3,"color":"#00f"},{"offset":0.3,"color":"transparent"},{"offset":0.32,"color":"transparent"},{"offset":0.32,"color":"#00f"},{"offset":0.34,"color":"#00f"},{"offset":0.34,"color":"transparent"},{"offset":0.36,"color":"transparent"},{"offset":0.36,"color":"#00f"},{"offset":0.38,"color":"#00f"},{"offset":0.38,"color":"transparent"},{"offset":0.4,"color":"transparent"},{"offset":0.4,"color":"#00f"},{"offset":0.42,"color":"#00f"},{"offset":0.42,"color":"transparent"},{"offset":0.44,"color":"transparent"},{"offset":0.44,"color":"#00f"},{"offset":0.46,"color":"#00f"},{"offset":0.46,"color":"transparent"},{"offset":0.48,"color":"transparent"},{"offset":0.48,"color":"#00f"},{"offset":0.5,"color":"#00f"},{"offset":0.5,"color":"transparent"},{"offset":0.52,"color":"transparent"},{"offset":0.52,"color":"#00f"},{"offset":0.54,"color":"#00f"},{"offset":0.54,"color":"transparent"},{"offset":0.56,"color":"transparent"},{"offset":0.56,"color":"#00f"},{"offset":0.58,"color":"#00f"},{"offset":0.58,"color":"transparent"},{"offset":0.6,"color":"transparent"},{"offset":0.6,"color":"#00f"},{"offset":0.62,"color":"#00f"},{"offset":0.62,"color":"transparent"},{"offset":0.64,"color":"transparent"},{"offset":0.64,"color":"#00f"},{"offset":0.66,"color":"#00f"},{"offset":0.66,"color":"transparent"},{"offset":0.68,"color":"transparent"},{"offset":0.68,"color":"#00f"},{"offset":0.7,"color":"#00f"},{"offset":0.7,"color":"transparent"},{"offset":0.72,"color":"transparent"},{"offset":0.72,"color":"#00f"},{"offset":0.74,"color":"#00f"},{"offset":0.74,"color":"transparent"},{"offset":0.76,"color":"transparent"},{"offset":0.76,"color":"#00f"},{"offset":0.78,"color":"#00f"},{"offset":0.78,"color":"transparent"},{"offset":0.8,"color":"transparent"},{"offset":0.8,"color":"#00f"},{"offset":0.82,"color":"#00f"},{"offset":0.82,"color":"transparent"},{"offset":0.84,"color":"transparent"},{"offset":0.84,"color":"#00f"},{"offset":0.86,"color":"#00f"},{"offset":0.86,"color":"transparent"},{"offset":0.88,"color":"transparent"},{"offset":0.88,"color":"#00f"},{"offset":0.9,"color":"#00f"},{"offset":0.9,"color":"transparent"},{"offset":0.92,"color":"transparent"},{"offset":0.92,"color":"#00f"},{"offset":0.94,"color":"#00f"},{"offset":0.94,"color":"transparent"},{"offset":0.96,"color":"transparent"},{"offset":0.96,"color":"#00f"},{"offset":0.98,"color":"#00f"},{"offset":0.98,"color":"transparent"},{"offset":1,"color":"transparent"}]}},
 "encoding":{"x":{"field":"e","type":"quantitative","scale":{"domain":[98,102],"reverse":true,"nice":false,"zero":false},"axis":null},"y":{"field":"v","type":"quantitative","stack":null,"scale":{"domain":[-1,123],"nice":false,"zero":false},"axis":null},"detail":{"field":"s"}}},
{"data":{"name":"comp"},"transform":[{"filter":"datum.p==2 && datum.t=='pink'"}],
 "mark":{"type":"area","interpolate":"monotone","stroke":"black","strokeWidth":1.5,"fill":{"gradient":"linear","x1":0,"y1":1,"x2":1,"y2":0,"stops":[{"offset":0,"color":"#ff1a8c"},{"offset":0.02,"color":"#ff1a8c"},{"offset":0.02,"color":"transparent"},{"offset":0.04,"color":"transparent"},{"offset":0.04,"color":"#ff1a8c"},{"offset":0.06,"color":"#ff1a8c"},{"offset":0.06,"color":"transparent"},{"offset":0.08,"color":"transparent"},{"offset":0.08,"color":"#ff1a8c"},{"offset":0.1,"color":"#ff1a8c"},{"offset":0.1,"color":"transparent"},{"offset":0.12,"color":"transparent"},{"offset":0.12,"color":"#ff1a8c"},{"offset":0.14,"color":"#ff1a8c"},{"offset":0.14,"color":"transparent"},{"offset":0.16,"color":"transparent"},{"offset":0.16,"color":"#ff1a8c"},{"offset":0.18,"color":"#ff1a8c"},{"offset":0.18,"color":"transparent"},{"offset":0.2,"color":"transparent"},{"offset":0.2,"color":"#ff1a8c"},{"offset":0.22,"color":"#ff1a8c"},{"offset":0.22,"color":"transparent"},{"offset":0.24,"color":"transparent"},{"offset":0.24,"color":"#ff1a8c"},{"offset":0.26,"color":"#ff1a8c"},{"offset":0.26,"color":"transparent"},{"offset":0.28,"color":"transparent"},{"offset":0.28,"color":"#ff1a8c"},{"offset":0.3,"color":"#ff1a8c"},{"offset":0.3,"color":"transparent"},{"offset":0.32,"color":"transparent"},{"offset":0.32,"color":"#ff1a8c"},{"offset":0.34,"color":"#ff1a8c"},{"offset":0.34,"color":"transparent"},{"offset":0.36,"color":"transparent"},{"offset":0.36,"color":"#ff1a8c"},{"offset":0.38,"color":"#ff1a8c"},{"offset":0.38,"color":"transparent"},{"offset":0.4,"color":"transparent"},{"offset":0.4,"color":"#ff1a8c"},{"offset":0.42,"color":"#ff1a8c"},{"offset":0.42,"color":"transparent"},{"offset":0.44,"color":"transparent"},{"offset":0.44,"color":"#ff1a8c"},{"offset":0.46,"color":"#ff1a8c"},{"offset":0.46,"color":"transparent"},{"offset":0.48,"color":"transparent"},{"offset":0.48,"color":"#ff1a8c"},{"offset":0.5,"color":"#ff1a8c"},{"offset":0.5,"color":"transparent"},{"offset":0.52,"color":"transparent"},{"offset":0.52,"color":"#ff1a8c"},{"offset":0.54,"color":"#ff1a8c"},{"offset":0.54,"color":"transparent"},{"offset":0.56,"color":"transparent"},{"offset":0.56,"color":"#ff1a8c"},{"offset":0.58,"color":"#ff1a8c"},{"offset":0.58,"color":"transparent"},{"offset":0.6,"color":"transparent"},{"offset":0.6,"color":"#ff1a8c"},{"offset":0.62,"color":"#ff1a8c"},{"offset":0.62,"color":"transparent"},{"offset":0.64,"color":"transparent"},{"offset":0.64,"color":"#ff1a8c"},{"offset":0.66,"color":"#ff1a8c"},{"offset":0.66,"color":"transparent"},{"offset":0.68,"color":"transparent"},{"offset":0.68,"color":"#ff1a8c"},{"offset":0.7,"color":"#ff1a8c"},{"offset":0.7,"color":"transparent"},{"offset":0.72,"color":"transparent"},{"offset":0.72,"color":"#ff1a8c"},{"offset":0.74,"color":"#ff1a8c"},{"offset":0.74,"color":"transparent"},{"offset":0.76,"color":"transparent"},{"offset":0.76,"color":"#ff1a8c"},{"offset":0.78,"color":"#ff1a8c"},{"offset":0.78,"color":"transparent"},{"offset":0.8,"color":"transparent"},{"offset":0.8,"color":"#ff1a8c"},{"offset":0.82,"color":"#ff1a8c"},{"offset":0.82,"color":"transparent"},{"offset":0.84,"color":"transparent"},{"offset":0.84,"color":"#ff1a8c"},{"offset":0.86,"color":"#ff1a8c"},{"offset":0.86,"color":"transparent"},{"offset":0.88,"color":"transparent"},{"offset":0.88,"color":"#ff1a8c"},{"offset":0.9,"color":"#ff1a8c"},{"offset":0.9,"color":"transparent"},{"offset":0.92,"color":"transparent"},{"offset":0.92,"color":"#ff1a8c"},{"offset":0.94,"color":"#ff1a8c"},{"offset":0.94,"color":"transparent"},{"offset":0.96,"color":"transparent"},{"offset":0.96,"color":"#ff1a8c"},{"offset":0.98,"color":"#ff1a8c"},{"offset":0.98,"color":"transparent"},{"offset":1,"color":"transparent"}]}},
 "encoding":{"x":{"field":"e","type":"quantitative","scale":{"domain":[98,102],"reverse":true,"nice":false,"zero":false},"axis":null},"y":{"field":"v","type":"quantitative","stack":null,"scale":{"domain":[-1,123],"nice":false,"zero":false},"axis":null},"detail":{"field":"s"}}},
{"data":{"name":"comp"},"transform":[{"filter":"datum.p==2 && datum.t=='bg'"}],
 "mark":{"type":"line","interpolate":"monotone","color":"black","strokeWidth":1.5},
 "encoding":{"x":{"field":"e","type":"quantitative","scale":{"domain":[98,102],"reverse":true,"nice":false,"zero":false},"axis":null},"y":{"field":"v","type":"quantitative","scale":{"domain":[-1,123],"nice":false,"zero":false},"axis":null}}},
{"data":{"name":"fit"},"transform":[{"filter":"datum.p==2"}],
 "mark":{"type":"point","shape":"circle","filled":false,"color":"black","strokeWidth":1,"size":25,"opacity":1},
 "encoding":{"x":{"field":"e","type":"quantitative","scale":{"domain":[98,102],"reverse":true,"nice":false,"zero":false},"axis":null},"y":{"field":"o","type":"quantitative","scale":{"domain":[-1,123],"nice":false,"zero":false},"axis":{"orient":"right","values":[31,61,91],"title":null}}}},
{"data":{"name":"fit"},"transform":[{"filter":"datum.p==2"}],
 "mark":{"type":"line","interpolate":"monotone","color":"red","strokeWidth":2},
 "encoding":{"x":{"field":"e","type":"quantitative","scale":{"domain":[98,102],"reverse":true,"nice":false,"zero":false},"axis":null},"y":{"field":"f","type":"quantitative","scale":{"domain":[-1,123],"nice":false,"zero":false},"axis":{"orient":"left","values":[31,61,91],"title":"Photoemission Intensity (arb. units)","titleFontSize":23,"titleX":-25,"titleY":147,"titleAngle":-90,"titleBaseline":"bottom","titleAlign":"center"}}}},
{"data":{"name":"labels"},"transform":[{"filter":"datum.p==2 && datum.k=='l'"}],
 "mark":{"type":"text","align":"left","baseline":"alphabetic","color":"black"},
 "encoding":{"x":{"field":"e","type":"quantitative","scale":{"domain":[98,102],"reverse":true,"nice":false,"zero":false},"axis":null},"y":{"field":"v","type":"quantitative","scale":{"domain":[-1,123],"nice":false,"zero":false},"axis":null},"text":{"field":"txt"}}}
]
},
{
"width":395,"height":120,
"resolve":{"axis":{"x":"independent","y":"independent"}},
"layer":[
{"data":{"name":"comp"},"transform":[{"filter":"datum.p==3 && datum.t=='mag'"}],
 "mark":{"type":"area","interpolate":"monotone","stroke":"black","strokeWidth":1.5,"fill":"#ff80ff"},
 "encoding":{"x":{"field":"e","type":"quantitative","scale":{"domain":[98,102],"reverse":true,"nice":false,"zero":false},"axis":null},"y":{"field":"v","type":"quantitative","stack":null,"scale":{"domain":[0,120],"nice":false,"zero":false},"axis":null}}},
{"data":{"name":"comp"},"transform":[{"filter":"datum.p==3 && datum.t=='bg'"}],
 "mark":{"type":"line","interpolate":"monotone","color":"black","strokeWidth":1.5},
 "encoding":{"x":{"field":"e","type":"quantitative","scale":{"domain":[98,102],"reverse":true,"nice":false,"zero":false},"axis":null},"y":{"field":"v","type":"quantitative","scale":{"domain":[0,120],"nice":false,"zero":false},"axis":null}}},
{"data":{"name":"fit"},"transform":[{"filter":"datum.p==3"}],
 "mark":{"type":"point","shape":"circle","filled":false,"color":"black","strokeWidth":1,"size":25,"opacity":1},
 "encoding":{"x":{"field":"e","type":"quantitative","scale":{"domain":[98,102],"reverse":true,"nice":false,"zero":false},"axis":null},"y":{"field":"o","type":"quantitative","scale":{"domain":[0,120],"nice":false,"zero":false},"axis":{"orient":"right","values":[31,61,91],"title":null}}}},
{"data":{"name":"fit"},"transform":[{"filter":"datum.p==3"}],
 "mark":{"type":"line","interpolate":"monotone","color":"red","strokeWidth":2},
 "encoding":{"x":{"field":"e","type":"quantitative","scale":{"domain":[98,102],"reverse":true,"nice":false,"zero":false},"axis":null},"y":{"field":"f","type":"quantitative","scale":{"domain":[0,120],"nice":false,"zero":false},"axis":{"orient":"left","values":[31,61,91],"title":null}}}},
{"data":{"name":"refs"},"transform":[{"filter":"datum.p==3 && datum.n=='NiSi'"}],
 "mark":{"type":"rule","color":"#0000ff","strokeWidth":2},
 "encoding":{"x":{"field":"e","type":"quantitative","scale":{"domain":[98,102],"reverse":true,"nice":false,"zero":false},"axis":null},"y":{"field":"lo","type":"quantitative","scale":{"domain":[0,120],"nice":false,"zero":false},"axis":null},"y2":{"field":"hi"}}},
{"data":{"name":"refs"},"transform":[{"filter":"datum.p==3 && datum.n=='Ni2Si'"}],
 "mark":{"type":"rule","color":"#ff0000","strokeWidth":2},
 "encoding":{"x":{"field":"e","type":"quantitative","scale":{"domain":[98,102],"reverse":true,"nice":false,"zero":false},"axis":null},"y":{"field":"lo","type":"quantitative","scale":{"domain":[0,120],"nice":false,"zero":false},"axis":null},"y2":{"field":"hi"}}},
{"data":{"name":"labels"},"transform":[{"filter":"datum.p==3 && datum.k=='l'"}],
 "mark":{"type":"text","align":"left","baseline":"alphabetic","color":"black"},
 "encoding":{"x":{"field":"e","type":"quantitative","scale":{"domain":[98,102],"reverse":true,"nice":false,"zero":false},"axis":null},"y":{"field":"v","type":"quantitative","scale":{"domain":[0,120],"nice":false,"zero":false},"axis":null},"text":{"field":"txt"}}},
{"data":{"name":"labels"},"transform":[{"filter":"datum.p==3 && datum.k=='b'"}],
 "mark":{"type":"text","align":"right","baseline":"alphabetic","color":"#0000ff"},
 "encoding":{"x":{"field":"e","type":"quantitative","scale":{"domain":[98,102],"reverse":true,"nice":false,"zero":false},"axis":null},"y":{"field":"v","type":"quantitative","scale":{"domain":[0,120],"nice":false,"zero":false},"axis":null},"text":{"field":"txt"}}},
{"data":{"name":"labels"},"transform":[{"filter":"datum.p==3 && datum.k=='r'"}],
 "mark":{"type":"text","align":"left","baseline":"alphabetic","color":"#ff0000"},
 "encoding":{"x":{"field":"e","type":"quantitative","scale":{"domain":[98,102],"reverse":true,"nice":false,"zero":false},"axis":null},"y":{"field":"v","type":"quantitative","scale":{"domain":[0,120],"nice":false,"zero":false},"axis":null},"text":{"field":"txt"}}}
]
},
{
"width":395,"height":128,
"resolve":{"axis":{"x":"independent","y":"independent"}},
"layer":[
{"data":{"name":"comp"},"transform":[{"filter":"datum.p==4 && datum.t=='cyan'"}],
 "mark":{"type":"area","interpolate":"monotone","stroke":"#207070","strokeWidth":1,"fill":"#80ffff"},
 "encoding":{"x":{"field":"e","type":"quantitative","scale":{"domain":[98,102],"reverse":true,"nice":false,"zero":false},"axis":null},"y":{"field":"v","type":"quantitative","stack":null,"scale":{"domain":[-6,122],"nice":false,"zero":false},"axis":null}}},
{"data":{"name":"comp"},"transform":[{"filter":"datum.p==4 && datum.t=='black'"}],
 "mark":{"type":"line","interpolate":"monotone","color":"black","strokeWidth":1.5},
 "encoding":{"x":{"field":"e","type":"quantitative","scale":{"domain":[98,102],"reverse":true,"nice":false,"zero":false},"axis":null},"y":{"field":"v","type":"quantitative","scale":{"domain":[-6,122],"nice":false,"zero":false},"axis":null}}},
{"data":{"name":"base"},
 "mark":{"type":"rule","color":"black","strokeWidth":2.5},
 "encoding":{"y":{"field":"v","type":"quantitative","scale":{"domain":[-6,122],"nice":false,"zero":false},"axis":null}}},
{"data":{"name":"fit"},"transform":[{"filter":"datum.p==4"}],
 "mark":{"type":"point","shape":"circle","filled":false,"color":"black","strokeWidth":1,"size":25,"opacity":1},
 "encoding":{"x":{"field":"e","type":"quantitative","scale":{"domain":[98,102],"reverse":true,"nice":false,"zero":false},"axis":null},"y":{"field":"o","type":"quantitative","scale":{"domain":[-6,122],"nice":false,"zero":false},"axis":{"orient":"right","values":[31,61,91],"title":null}}}},
{"data":{"name":"fit"},"transform":[{"filter":"datum.p==4"}],
 "mark":{"type":"line","interpolate":"monotone","color":"red","strokeWidth":2},
 "encoding":{"x":{"field":"e","type":"quantitative","scale":{"domain":[98,102],"reverse":true,"nice":false,"zero":false},"axis":{"orient":"bottom","values":[98,98.25,98.5,98.75,99,99.25,99.5,99.75,100,100.25,100.5,100.75,101,101.25,101.5,101.75,102],"tickSize":-6,"labels":true,"labelExpr":"datum.value % 1 === 0 ? format(datum.value, 'd') : ''","labelFlush":false,"labelFontSize":16,"labelPadding":8,"title":"Binding Energy (eV)","titleFontSize":21,"titleY":47,"titleBaseline":"alphabetic"}},"y":{"field":"f","type":"quantitative","scale":{"domain":[-6,122],"nice":false,"zero":false},"axis":{"orient":"left","values":[31,61,91],"title":null}}}},
{"data":{"name":"refs"},"transform":[{"filter":"datum.p==4 && datum.n=='NiSi'"}],
 "mark":{"type":"rule","color":"#0000ff","strokeWidth":2},
 "encoding":{"x":{"field":"e","type":"quantitative","scale":{"domain":[98,102],"reverse":true,"nice":false,"zero":false},"axis":null},"y":{"field":"lo","type":"quantitative","scale":{"domain":[-6,122],"nice":false,"zero":false},"axis":null},"y2":{"field":"hi"}}},
{"data":{"name":"refs"},"transform":[{"filter":"datum.p==4 && datum.n=='Ni2Si'"}],
 "mark":{"type":"rule","color":"#ff0000","strokeWidth":2},
 "encoding":{"x":{"field":"e","type":"quantitative","scale":{"domain":[98,102],"reverse":true,"nice":false,"zero":false},"axis":null},"y":{"field":"lo","type":"quantitative","scale":{"domain":[-6,122],"nice":false,"zero":false},"axis":null},"y2":{"field":"hi"}}},
{"data":{"name":"labels"},"transform":[{"filter":"datum.p==4 && datum.k=='l'"}],
 "mark":{"type":"text","align":"left","baseline":"alphabetic","color":"black"},
 "encoding":{"x":{"field":"e","type":"quantitative","scale":{"domain":[98,102],"reverse":true,"nice":false,"zero":false},"axis":null},"y":{"field":"v","type":"quantitative","scale":{"domain":[-6,122],"nice":false,"zero":false},"axis":null},"text":{"field":"txt"}}}
]
}
]
}
